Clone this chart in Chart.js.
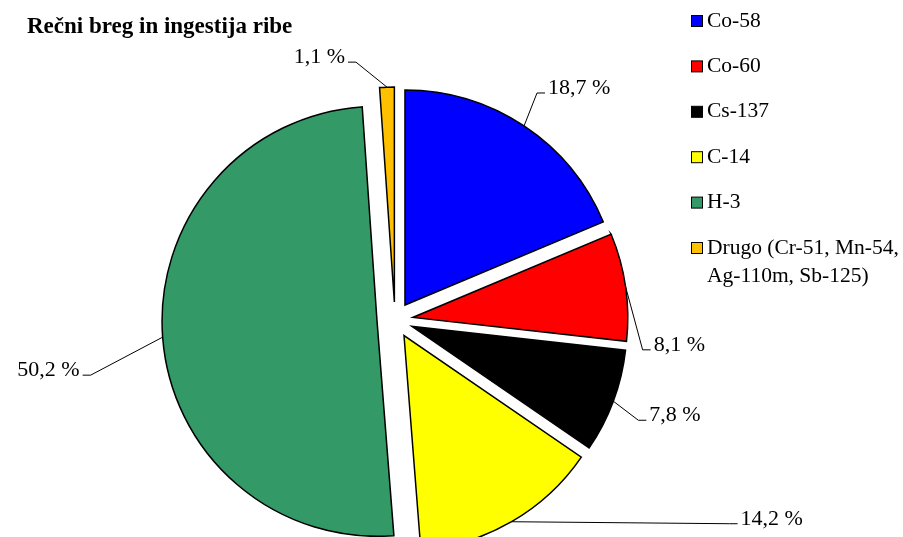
<!DOCTYPE html>
<html>
<head>
<meta charset="utf-8">
<script src="https://cdn.jsdelivr.net/npm/chart.js@4"></script>
<style>
  html, body { margin: 0; padding: 0; background: #fff; }
  #wrap { position: relative; width: 903px; height: 537px; overflow: hidden; }
</style>
</head>
<body>
<div id="wrap"><canvas id="pieChart" width="903" height="537"></canvas></div>
<script>
const chartTitle = "Rečni breg in ingestija ribe";
const labels = ["Co-58", "Co-60", "Cs-137", "C-14", "H-3", "Drugo (Cr-51, Mn-54, Ag-110m, Sb-125)"];
const legendLines = [["Co-58"], ["Co-60"], ["Cs-137"], ["C-14"], ["H-3"], ["Drugo (Cr-51, Mn-54,", "Ag-110m, Sb-125)"]];
const shares = [18.7, 8.1, 7.8, 14.2, 50.2, 1.1];
const colors = ["#0000ff", "#ff0000", "#000000", "#ffff00", "#339966", "#ffc000"];

// where each leader line bends, relative to the middle of its arc
const leaderBends = [[13, -33], [17, 63], [25, 19], [218, 2], [-72, 38], [-31, -25]];

const EXPLODE = 18;
const SERIF = "'Liberation Serif', 'Times New Roman', serif";

const fmt = v => v.toFixed(1).replace(".", ",") + " %";

// push every slice out from the centre along its middle angle
const explode = {
  id: "explode",
  beforeDatasetsDraw(chart) {
    const a = chart.chartArea;
    const cx = (a.left + a.right) / 2;
    const cy = (a.top + a.bottom) / 2;
    chart.getDatasetMeta(0).data.forEach(arc => {
      const mid = (arc.startAngle + arc.endAngle) / 2;
      arc.x = cx + Math.cos(mid) * EXPLODE;
      arc.y = cy + Math.sin(mid) * EXPLODE;
    });
  }
};

const decorations = {
  id: "decorations",
  afterDatasetsDraw(chart) {
    const ctx = chart.ctx;
    ctx.save();

    // title
    ctx.fillStyle = "#000";
    ctx.font = "bold 23px " + SERIF;
    ctx.textBaseline = "middle";
    ctx.textAlign = "left";
    ctx.fillText(chartTitle, 27, 27);

    // data labels with leader lines
    ctx.font = "22px " + SERIF;
    ctx.strokeStyle = "#000";
    ctx.lineWidth = 1;
    chart.getDatasetMeta(0).data.forEach((arc, i) => {
      const mid = (arc.startAngle + arc.endAngle) / 2;
      const px = arc.x + Math.cos(mid) * arc.outerRadius;
      const py = arc.y + Math.sin(mid) * arc.outerRadius;
      const bx = px + leaderBends[i][0];
      const by = py + leaderBends[i][1];
      const right = leaderBends[i][0] >= 0;
      const ex = bx + (right ? 8 : -8);
      ctx.beginPath();
      ctx.moveTo(px, py);
      ctx.lineTo(bx, by);
      ctx.lineTo(ex, by);
      ctx.stroke();
      ctx.textAlign = right ? "left" : "right";
      ctx.fillText(fmt(shares[i]), ex + (right ? 3 : -3), by - 5);
    });

    // legend
    ctx.font = "21.5px " + SERIF;
    ctx.textAlign = "left";
    ctx.lineWidth = 1;
    legendLines.forEach((lines, i) => {
      const y = 21 + i * 45.4;
      ctx.fillStyle = colors[i];
      ctx.fillRect(691.5, y - 5.5, 11, 11);
      ctx.strokeRect(691.5, y - 5.5, 11, 11);
      ctx.fillStyle = "#000";
      lines.forEach((t, j) => ctx.fillText(t, 707, y + j * 28));
    });

    ctx.restore();
  }
};

new Chart(document.getElementById("pieChart"), {
  type: "pie",
  data: {
    labels: labels,
    datasets: [{
      data: shares,
      backgroundColor: colors,
      borderColor: "#000",
      borderWidth: 1.5,
      borderJoinStyle: "miter",
      clip: false
    }]
  },
  options: {
    responsive: false,
    animation: false,
    events: [],
    radius: 215,
    layout: { padding: { left: 0, right: 113, top: 103, bottom: 0 } },
    plugins: {
      legend: { display: false },
      tooltip: { enabled: false },
      title: { display: false }
    }
  },
  plugins: [explode, decorations]
});
</script>
</body>
</html>
